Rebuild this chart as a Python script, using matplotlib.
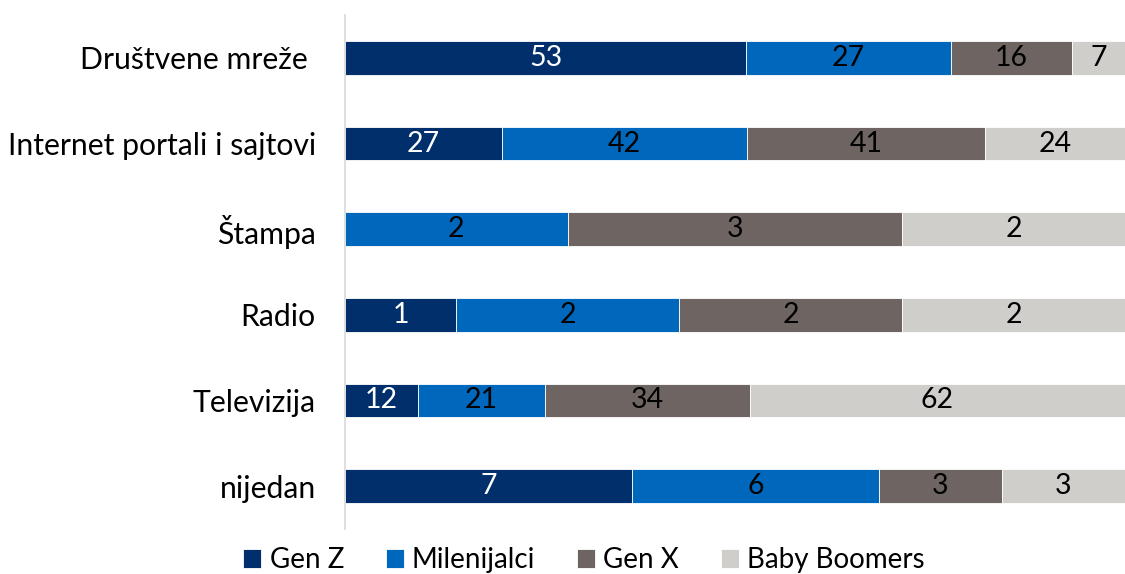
import numpy as np
import matplotlib.pyplot as plt

plt.rcParams['font.family'] = ['Lato', 'DejaVu Sans']

categories = ['Društvene mreže ', 'Internet portali i sajtovi', 'Štampa', 'Radio', 'Televizija', 'nijedan']
series = ['Gen Z', 'Milenijalci', 'Gen X', 'Baby Boomers']
gen_z = [53, 27, 0, 1, 12, 7]
milenijalci = [27, 42, 2, 2, 21, 6]
gen_x = [16, 41, 3, 2, 34, 3]
boomers = [7, 24, 2, 2, 62, 3]

colors = ['#002F6C', '#0068BC', '#6E6563', '#D0CECB']
text_colors = ['white', 'black', 'black', 'black']

data = np.array([gen_z, milenijalci, gen_x, boomers], dtype=float)
shares = data / data.sum(axis=0) * 100

fig = plt.figure(figsize=(11.25, 5.74), dpi=100)
ax = fig.add_axes([345 / 1125, 1 - 529 / 574, 780 / 1125, 514 / 574])

y = np.arange(len(categories))
left = np.zeros(len(categories))
for i, name in enumerate(series):
    bars = ax.barh(y, shares[i], left=left, height=0.39, color=colors[i],
                   edgecolor='white', linewidth=0.6, label=name)
    for j, b in enumerate(bars):
        if data[i, j] > 0:
            ax.text(left[j] + shares[i, j] / 2, y[j], f'{int(data[i, j])}',
                    ha='center', va='center', fontsize=20.5, color=text_colors[i])
    left += shares[i]

ax.set_xlim(0, 100)
ax.set_ylim(5.5, -0.5)
ax.set_yticks(y)
ax.set_yticklabels(categories, fontsize=21.7)
ax.tick_params(axis='y', length=0, pad=21)
ax.set_xticks([])
for s in ['top', 'right', 'bottom']:
    ax.spines[s].set_visible(False)
ax.spines['left'].set_color('#D9D9D9')
ax.spines['left'].set_linewidth(1.2)

fig.legend(loc='center', bbox_to_anchor=(584 / 1125, 1 - 560 / 574), ncol=4,
           frameon=False, fontsize=20, handlelength=0.65, handleheight=0.65,
           handletextpad=0.3, columnspacing=1.5)

fig.savefig('out.png', dpi=100)
